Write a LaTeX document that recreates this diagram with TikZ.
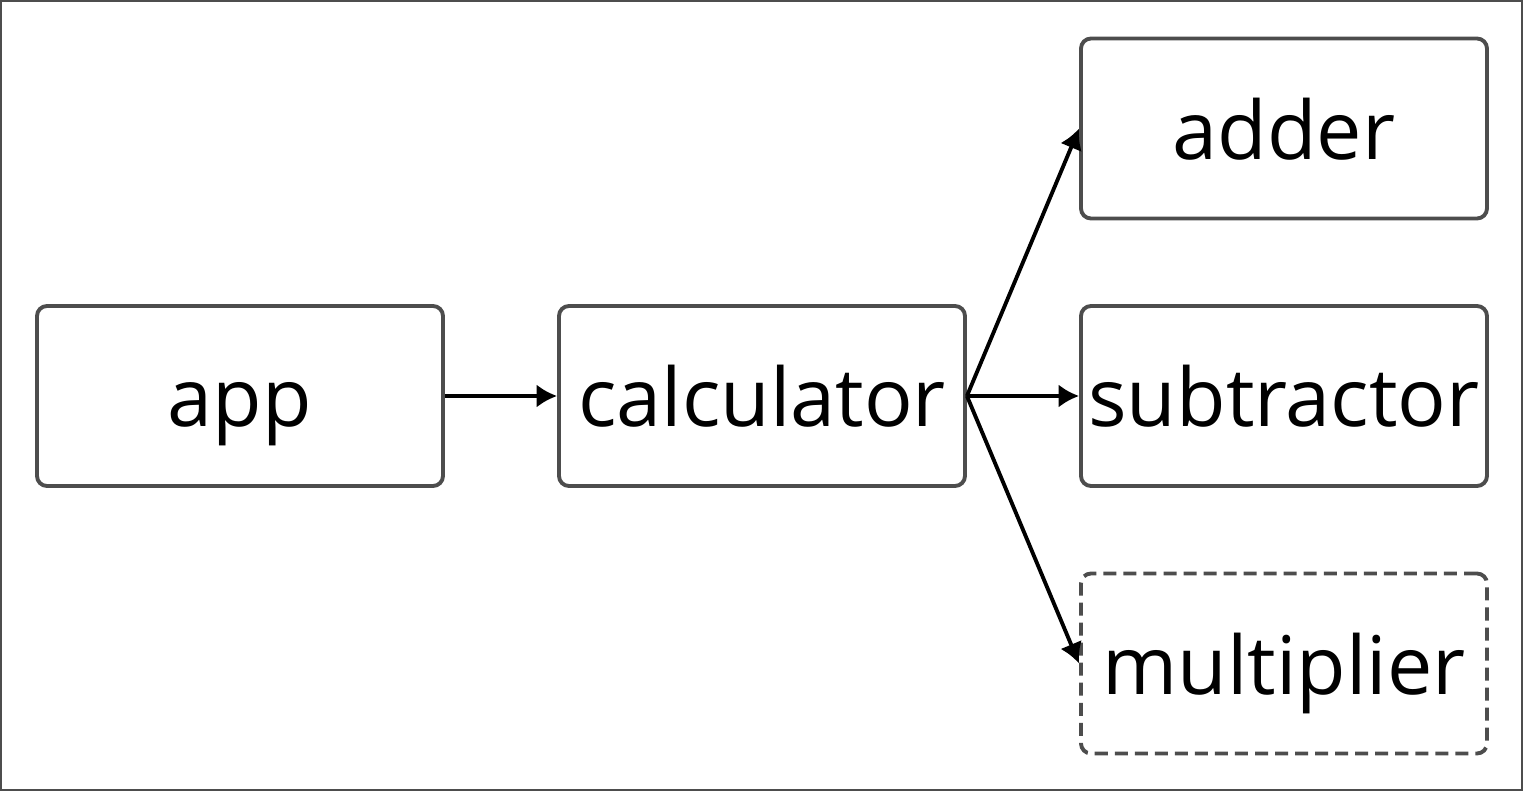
\documentclass[tikz,border=0pt]{standalone}
\usepackage{fontspec}
\setmainfont{Open Sans}
\usepackage{xcolor}
\usetikzlibrary{arrows.meta}
\definecolor{boxgray}{RGB}{77,77,77}

\begin{document}
\begin{tikzpicture}[
  module/.style={draw=boxgray, line width=1.1pt, rounded corners=0.1cm,
    minimum width=4.06cm, minimum height=1.8cm, inner sep=0pt,
    text height=17.6pt, text depth=0pt,
    font=\fontsize{23}{28}\selectfont},
  planned/.style={module, dash pattern=on 3.7pt off 2pt},
  dep/.style={-{Latex[length=5.8pt,width=6.6pt]}, line width=1.1pt}
]
\def\W{15.23}
\def\H{7.91}

\useasboundingbox (0,0) rectangle (\W,-\H);
\draw[boxgray, line width=0.6pt] (0.01,-0.01) rectangle (\W-0.01,-\H+0.01);

\node[module] (app) at (2.40,-3.96) {app};
\node[module] (calc) at (7.62,-3.96) {calculator};
\node[module] (add) at (12.84,-1.285) {adder};
\node[module] (sub) at (12.84,-3.96) {subtractor};
\node[planned] (mul) at (12.84,-6.635) {multiplier};

\draw[dep] (app.east) -- (calc.west);
\draw[dep] (calc.east) -- (add.west);
\draw[dep] (calc.east) -- (sub.west);
\draw[dep] (calc.east) -- (mul.west);

\end{tikzpicture}
\end{document}
